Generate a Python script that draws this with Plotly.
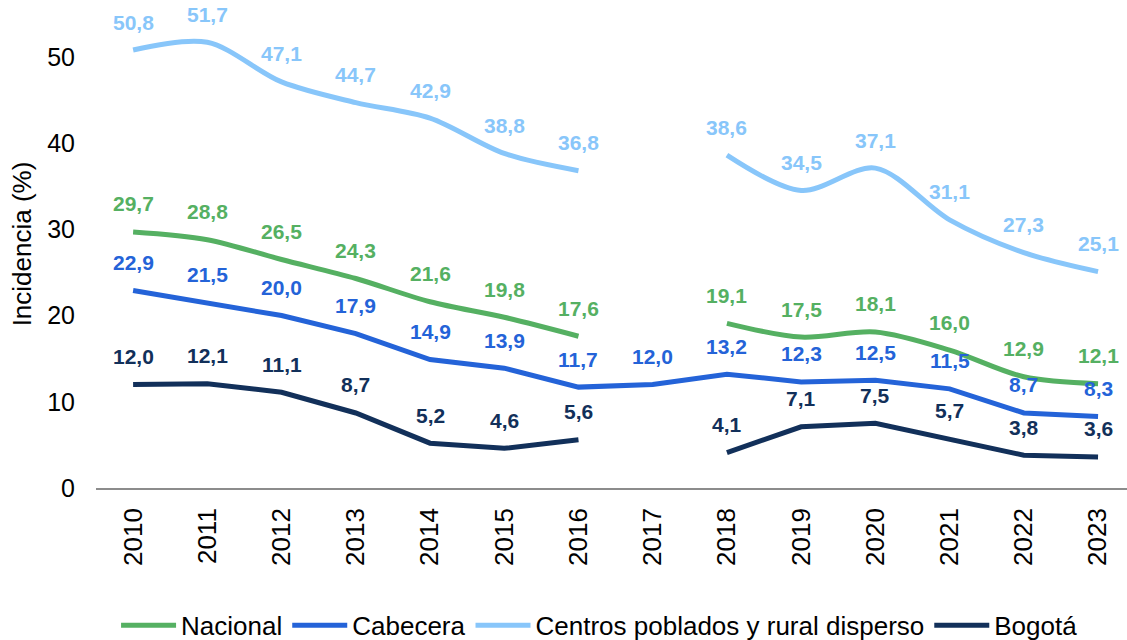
import plotly.graph_objects as go

years = [str(y) for y in range(2010, 2024)]
nacional = [29.7, 28.8, 26.5, 24.3, 21.6, 19.8, 17.6, None, 19.1, 17.5, 18.1, 16.0, 12.9, 12.1]
cabecera = [22.9, 21.5, 20.0, 17.9, 14.9, 13.9, 11.7, 12.0, 13.2, 12.3, 12.5, 11.5, 8.7, 8.3]
centros = [50.8, 51.7, 47.1, 44.7, 42.9, 38.8, 36.8, None, 38.6, 34.5, 37.1, 31.1, 27.3, 25.1]
bogota = [12.0, 12.1, 11.1, 8.7, 5.2, 4.6, 5.6, None, 4.1, 7.1, 7.5, 5.7, 3.8, 3.6]

series = [
    ("Nacional", nacional, "#55B062", "spline"),
    ("Cabecera", cabecera, "#2463D8", "linear"),
    ("Centros poblados y rural disperso", centros, "#88C6FA", "spline"),
    ("Bogotá", bogota, "#12305A", "linear"),
]

FONT = "Liberation Sans, Arial, Helvetica, sans-serif"

fig = go.Figure()
annotations = []
for name, vals, color, shape in series:
    fig.add_trace(go.Scatter(
        x=years, y=vals, name=name, mode="lines",
        line=dict(color=color, width=5, shape=shape, smoothing=0.9),
        connectgaps=False,
    ))
    for i, v in enumerate(vals):
        if v is None:
            continue
        annotations.append(dict(
            x=i, y=v, xref="x", yref="y",
            text="<b>" + f"{v:.1f}".replace(".", ",") + "</b>",
            showarrow=False, yshift=28, yanchor="middle", xanchor="center",
            font=dict(family=FONT, size=21, color=color),
        ))

fig.update_layout(
    width=1127, height=640,
    margin=dict(l=96, r=0, t=0, b=152),
    paper_bgcolor="white", plot_bgcolor="white",
    font=dict(family=FONT, color="black"),
    annotations=annotations,
    showlegend=True,
    legend=dict(
        orientation="h", xref="container", yref="container",
        x=0.532, xanchor="center", y=0.023, yanchor="middle",
        font=dict(family=FONT, size=26, color="black"),
        itemwidth=55, traceorder="normal",
    ),
    xaxis=dict(
        type="category", range=[-0.5, 13.39],
        showline=True, linecolor="#8C8C8C", linewidth=1.5,
        showgrid=False, zeroline=False, ticks="",
        tickangle=-90, tickfont=dict(family=FONT, size=26, color="black"),
        ticklabelstandoff=8,
    ),
    yaxis=dict(
        range=[0, 56.6], tickvals=[0, 10, 20, 30, 40, 50],
        showgrid=False, zeroline=False, showline=False, ticks="",
        tickfont=dict(family=FONT, size=25, color="black"),
        ticklabelstandoff=20,
        title=dict(text="Incidencia (%)", font=dict(family=FONT, size=26, color="black"), standoff=8),
    ),
)

fig.write_html("out.html", config={"displayModeBar": False},
               post_script="document.body.style.margin='0';document.body.style.overflow='hidden';")
